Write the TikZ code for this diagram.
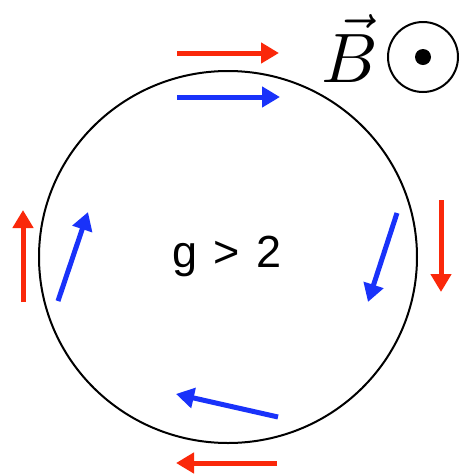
\documentclass[tikz,border=0pt]{standalone}
\usepackage{fontspec}
\newfontfamily\heros{Liberation Sans}
\usetikzlibrary{arrows.meta}
\definecolor{ared}{RGB}{250,40,10}
\definecolor{ablue}{RGB}{25,50,250}
\tikzset{
  vec/.style={line width=5pt, -{Triangle[length=18pt,width=20pt]}},
  redvec/.style={vec, draw=ared, color=ared},
  bluevec/.style={vec, draw=ablue, color=ablue},
}
\begin{document}
\begin{tikzpicture}[x=1pt,y=-1pt]
\useasboundingbox (0,0) rectangle (460,475);
% orbit
\draw[line width=2pt] (228,257) ellipse [x radius=189, y radius=186];
\node (orbit) at (228,257) {};
% label
\node[anchor=base, inner sep=0pt, font=\heros\fontsize{45}{50}\selectfont] (g) at (227,267) {g\hspace{4pt} >\hspace{4pt} 2};
% B field
\node[anchor=base, inner sep=0pt] (B) at (350,82) {\scalebox{7}{$\vec{B}$}};
\node[draw, circle, line width=2pt, minimum size=70pt, inner sep=0pt] (bdot) at (423,57) {};
\fill (bdot.center) circle (8pt);
% coordinates
\coordinate (rt1) at (177,53);  \coordinate (rt2) at (279,53);
\coordinate (bt1) at (177,97);  \coordinate (bt2) at (280,97);
\coordinate (rl1) at (23,302);  \coordinate (rl2) at (23,210);
\coordinate (bl1) at (58,301);  \coordinate (bl2) at (88,212);
\coordinate (br1) at (397,213); \coordinate (br2) at (368,302);
\coordinate (rr1) at (441,200); \coordinate (rr2) at (441,292);
\coordinate (bb1) at (278,417); \coordinate (bb2) at (176,394);
\coordinate (rb1) at (277,463); \coordinate (rb2) at (176,463);
% arrows
\draw[redvec]  (rt1) -- (rt2);
\draw[bluevec] (bt1) -- (bt2);
\draw[redvec]  (rl1) -- (rl2);
\draw[bluevec] (bl1) -- (bl2);
\draw[bluevec] (br1) -- (br2);
\draw[redvec]  (rr1) -- (rr2);
\draw[bluevec] (bb1) -- (bb2);
\draw[redvec]  (rb1) -- (rb2);
\end{tikzpicture}
\end{document}
